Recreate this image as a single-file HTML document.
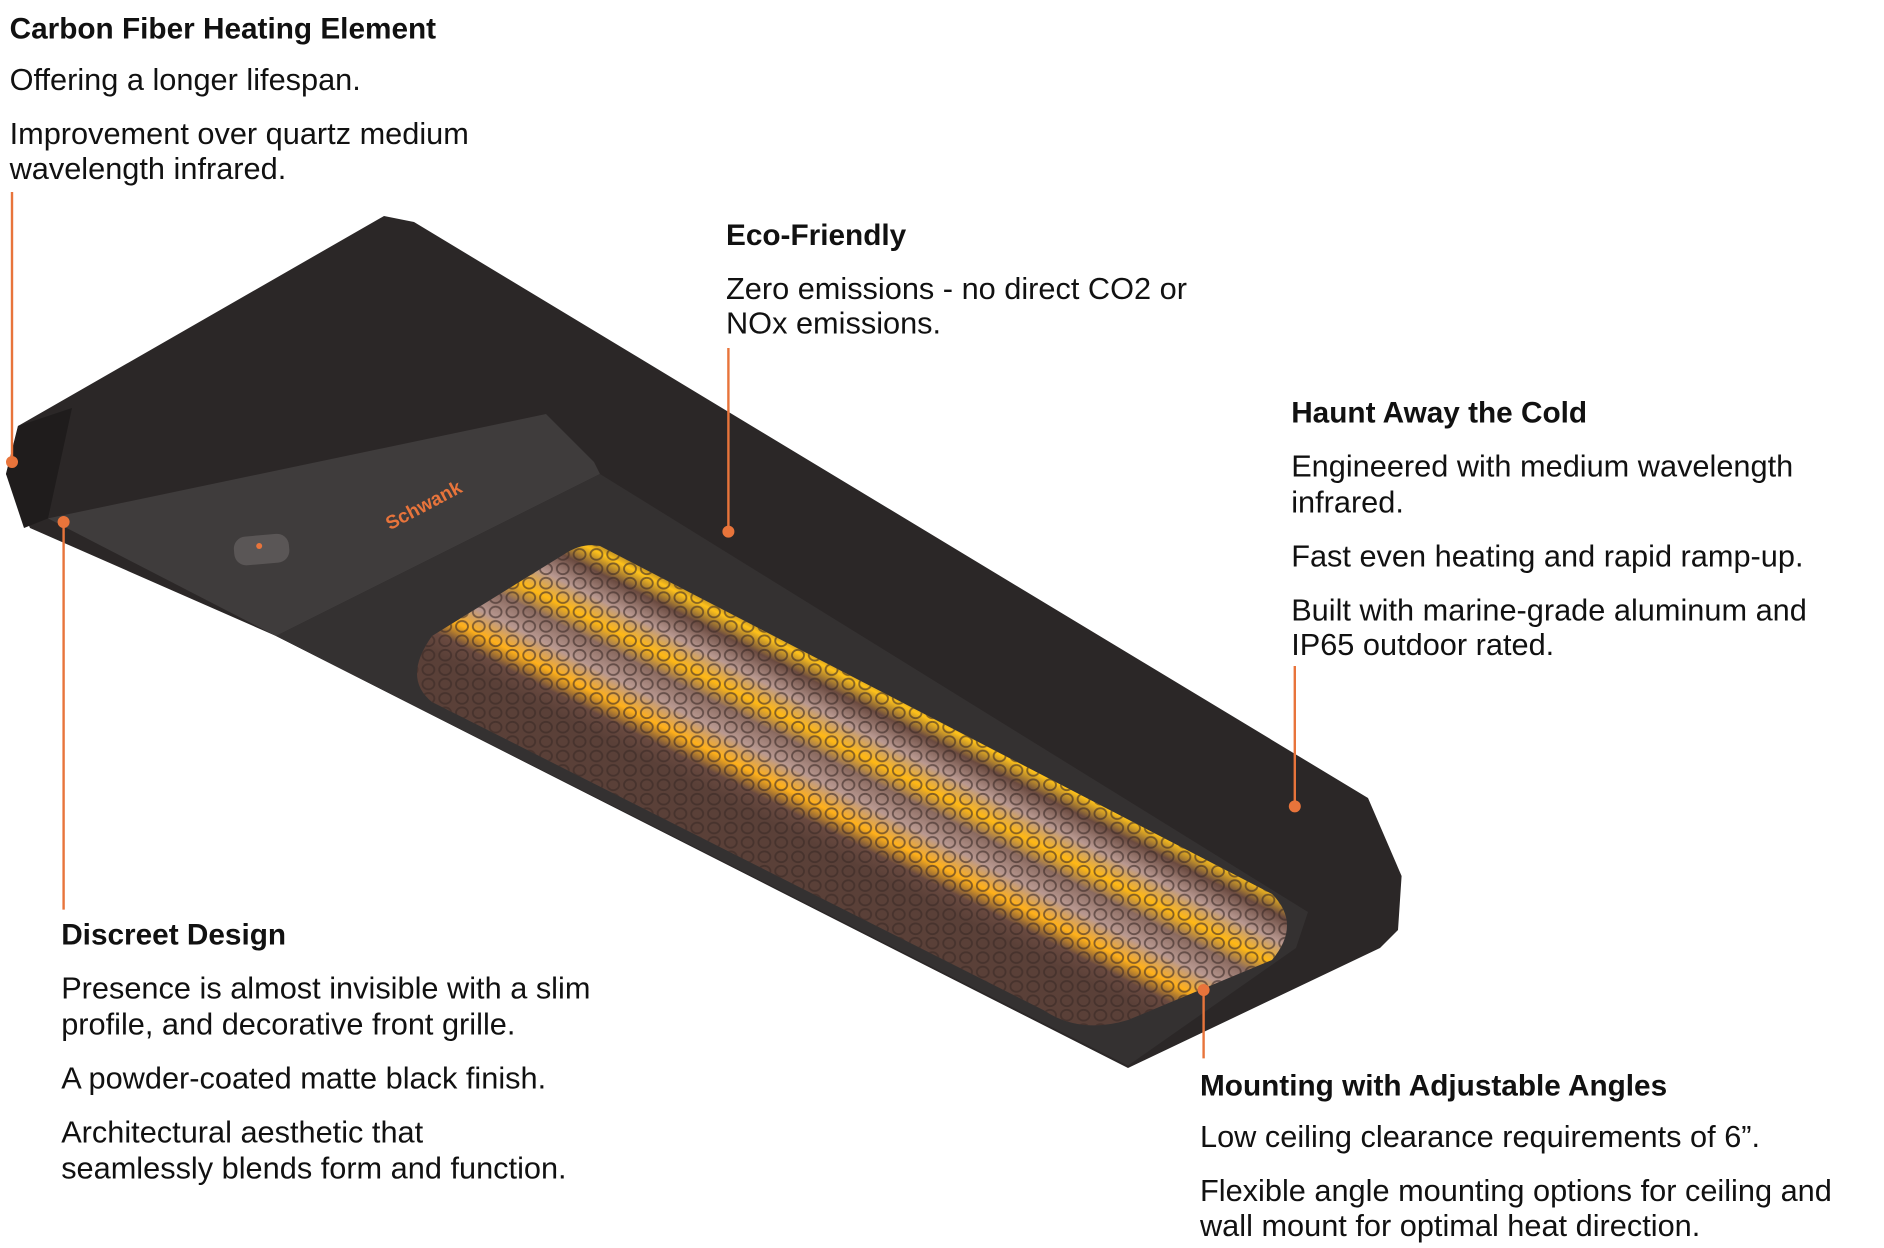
<!DOCTYPE html>
<html><head><meta charset="utf-8"><style>
html,body{margin:0;padding:0;background:#fff;}
svg{display:block;}
text{font-family:"Liberation Sans",sans-serif;fill:#111;font-size:25.6px;}
.h{font-weight:bold;font-size:24.8px;}
</style></head><body>
<svg width="1884" height="1248" viewBox="0 0 1570 1040" xmlns="http://www.w3.org/2000/svg">
<defs>
<linearGradient id="gr" gradientUnits="userSpaceOnUse" x1="790" y1="590" x2="722" y2="725">
<stop offset="0" stop-color="#5a4038"/>
<stop offset="0.1" stop-color="#ffc21a"/>
<stop offset="0.2" stop-color="#6a4a40"/>
<stop offset="0.33" stop-color="#b89890"/>
<stop offset="0.45" stop-color="#ffb814"/>
<stop offset="0.55" stop-color="#8a6a60"/>
<stop offset="0.68" stop-color="#b89890"/>
<stop offset="0.8" stop-color="#ffb01a"/>
<stop offset="0.9" stop-color="#6a4a40"/>
<stop offset="1" stop-color="#5a4038"/>
</linearGradient>
<pattern id="hex" width="14" height="12" patternUnits="userSpaceOnUse">
<ellipse cx="7" cy="6" rx="5" ry="4.5" fill="none" stroke="#3a2a26" stroke-width="1.5" opacity="0.6"/>
</pattern>
</defs>
<polygon points="5,395 15,355 320,180 345,185 1140,665 1168,730 1165,775 1150,790 940,890 230,530 25,440" fill="#2b2727"/>
<polygon points="40,432 455,345 495,385 500,395 230,530" fill="#3f3c3c"/>
<polygon points="230,530 500,395 1090,760 1080,790 940,888" fill="#343131"/>
<polygon points="40,432 20,440 5,395 15,355 60,340" fill="#1f1c1c"/>
<rect x="195" y="446" width="46" height="24" rx="10" fill="#5a5656" transform="rotate(-5 218 458)"/>
<circle cx="216" cy="455" r="2.5" fill="#e8743b"/>
<text x="325" y="442" transform="rotate(-28 325 442)" style="fill:#e8743b;font-size:16px;font-weight:bold">Schwank</text>
<path d="M 500,455 L 1060,745 Q 1085,770 1060,800 L 940,850 Q 900,862 870,842 L 360,585 Q 335,565 360,530 L 470,462 Q 485,452 500,455 Z" fill="url(#gr)"/>
<path d="M 500,455 L 1060,745 Q 1085,770 1060,800 L 940,850 Q 900,862 870,842 L 360,585 Q 335,565 360,530 L 470,462 Q 485,452 500,455 Z" fill="url(#hex)"/>
<g stroke="#e8743b" stroke-width="2" fill="#e8743b">
<line x1="10" y1="160" x2="10" y2="385"/><circle cx="10" cy="385" r="4"/>
<line x1="53" y1="435" x2="53" y2="758"/><circle cx="53" cy="435" r="4"/>
<line x1="607" y1="290" x2="607" y2="443"/><circle cx="607" cy="443" r="4"/>
<line x1="1079" y1="555" x2="1079" y2="672"/><circle cx="1079" cy="672" r="4"/>
<line x1="1003" y1="825" x2="1003" y2="882"/><circle cx="1003" cy="825" r="4"/>
</g>
<text class="h" x="8" y="32">Carbon Fiber Heating Element</text>
<text x="8" y="75">Offering a longer lifespan.</text>
<text x="8" y="120">Improvement over quartz medium</text>
<text x="8" y="149">wavelength infrared.</text>
<text class="h" x="605" y="204">Eco-Friendly</text>
<text x="605" y="249">Zero emissions - no direct CO2 or</text>
<text x="605" y="278">NOx emissions.</text>
<text class="h" x="1076" y="352">Haunt Away the Cold</text>
<text x="1076" y="397">Engineered with medium wavelength</text>
<text x="1076" y="427">infrared.</text>
<text x="1076" y="472">Fast even heating and rapid ramp-up.</text>
<text x="1076" y="517">Built with marine-grade aluminum and</text>
<text x="1076" y="546">IP65 outdoor rated.</text>
<text class="h" x="51" y="787">Discreet Design</text>
<text x="51" y="832">Presence is almost invisible with a slim</text>
<text x="51" y="862">profile, and decorative front grille.</text>
<text x="51" y="907">A powder-coated matte black finish.</text>
<text x="51" y="952">Architectural aesthetic that</text>
<text x="51" y="982">seamlessly blends form and function.</text>
<text class="h" x="1000" y="913">Mounting with Adjustable Angles</text>
<text x="1000" y="956">Low ceiling clearance requirements of 6”.</text>
<text x="1000" y="1001">Flexible angle mounting options for ceiling and</text>
<text x="1000" y="1030">wall mount for optimal heat direction.</text>
</svg>
</body></html>
